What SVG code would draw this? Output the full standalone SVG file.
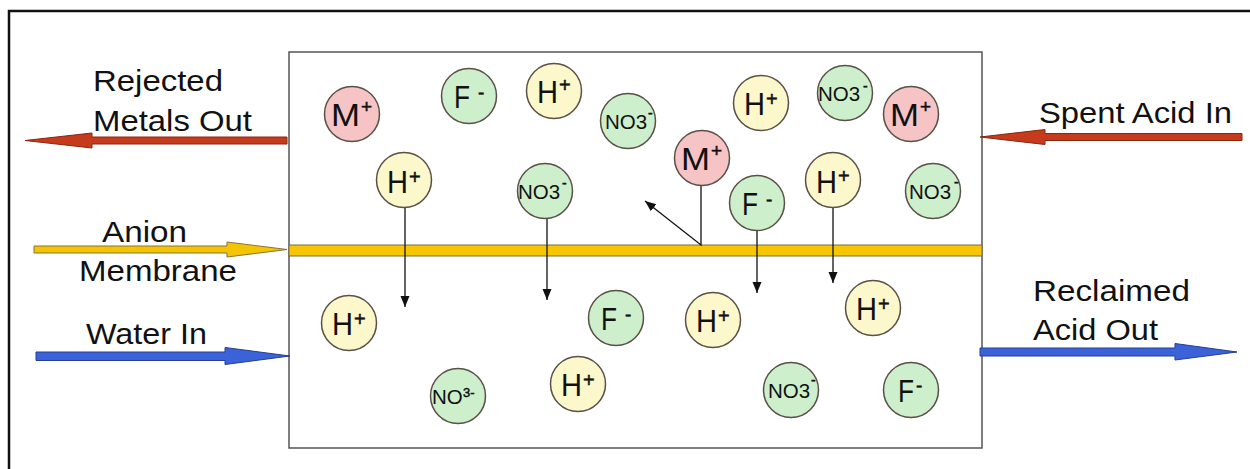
<svg xmlns="http://www.w3.org/2000/svg" width="1250" height="469" viewBox="0 0 1250 469">
<defs>
<style>
.lbl{font-family:"Liberation Sans",Arial,sans-serif;font-size:29.5px;fill:#111}
.big{font-family:"Liberation Sans",Arial,sans-serif;font-size:32px;fill:#111}
.sup{font-family:"Liberation Sans",Arial,sans-serif;fill:#111;stroke:#111;stroke-width:0.5}
.no{font-family:"Liberation Sans",Arial,sans-serif;font-size:20.5px;fill:#111}
.m{fill:#F6C4C4;stroke:#5a5048;stroke-width:1.5}
.h{fill:#FCF8CC;stroke:#5a5048;stroke-width:1.5}
.g{fill:#CDEFCB;stroke:#5a5048;stroke-width:1.5}
.conn{fill:none;stroke:#111;stroke-width:1.3}
.red{fill:#C53B1B;stroke:#86280f;stroke-width:1}
.blue{fill:#3B62D9;stroke:#253f8f;stroke-width:1}
.yel{fill:#F4C400;stroke:#8a7236;stroke-width:1}
</style>
<marker id="ah" markerUnits="userSpaceOnUse" markerWidth="12" markerHeight="12" viewBox="0 0 12 12" refX="11" refY="6" orient="auto">
<path d="M0,1.5 L11,6 L0,10.5 Z" fill="#111"/>
</marker>
</defs>
<rect width="1250" height="469" fill="#fff"/>
<path d="M9,469 V11 H1250" fill="none" stroke="#111" stroke-width="2.5"/>

<g id="cell">
<rect x="289" y="52" width="693" height="396" fill="#fff" stroke="#555" stroke-width="1.5"/>
</g>
<g id="membrane">
<rect x="289" y="245" width="693" height="11" fill="#F8C600" stroke="#7d6a45" stroke-width="1"/>
</g>

<g id="flows">
<polygon class="red" points="287,137 92,137 92,133 25,140.5 92,148 92,144 287,144"/>
<polygon class="red" points="1242,133.5 1045,133.5 1045,129.5 980,137 1045,144.5 1045,140.5 1242,140.5"/>
<polygon class="yel" points="34,246 227,246 227,242 287,249.5 227,257 227,253 34,253"/>
<polygon class="blue" points="36,352 225,352 225,347.5 290,356 225,364.5 225,360.5 36,360.5"/>
<polygon class="blue" points="980,348 1175,348 1175,343.5 1237,352 1175,360 1175,356 980,356"/>
</g>

<g id="labels">
<text class="lbl" x="93" y="91" textLength="130" lengthAdjust="spacingAndGlyphs">Rejected</text>
<text class="lbl" x="93" y="131" textLength="159" lengthAdjust="spacingAndGlyphs">Metals Out</text>
<text class="lbl" x="1039" y="123" textLength="193" lengthAdjust="spacingAndGlyphs">Spent Acid In</text>
<text class="lbl" x="102" y="242" textLength="85" lengthAdjust="spacingAndGlyphs">Anion</text>
<text class="lbl" x="79" y="281" textLength="158" lengthAdjust="spacingAndGlyphs">Membrane</text>
<text class="lbl" x="86" y="344" textLength="121" lengthAdjust="spacingAndGlyphs">Water In</text>
<text class="lbl" x="1033" y="301" textLength="157" lengthAdjust="spacingAndGlyphs">Reclaimed</text>
<text class="lbl" x="1033" y="340" textLength="125" lengthAdjust="spacingAndGlyphs">Acid Out</text>
</g>

<g id="connectors">
<path class="conn" d="M405,207 V307" marker-end="url(#ah)"/>
<path class="conn" d="M547,218 V300" marker-end="url(#ah)"/>
<path class="conn" d="M701,185 V245 L645,201" marker-end="url(#ah)"/>
<path class="conn" d="M757,230 V293" marker-end="url(#ah)"/>
<path class="conn" d="M833,207 V283" marker-end="url(#ah)"/>
</g>

<!-- top chamber -->
<g id="m1" transform="translate(352,114)"><circle r="27.5" class="m"/><text class="big" x="-21" y="12" textLength="29" lengthAdjust="spacingAndGlyphs">M</text><text class="sup" x="9" y="-1" font-size="19">+</text></g>
<g id="f1" transform="translate(469,96)"><circle r="27.5" class="g"/><text class="big" x="-15" y="12" textLength="16" lengthAdjust="spacingAndGlyphs">F</text><text class="sup" x="9" y="3" font-size="19">-</text></g>
<g id="h1" transform="translate(554,91)"><circle r="27.5" class="h"/><text class="big" x="-17" y="12" textLength="21" lengthAdjust="spacingAndGlyphs">H</text><text class="sup" x="5" y="1" font-size="20">+</text></g>
<g id="n1" transform="translate(628,121)"><circle r="27.5" class="g"/><text class="no" x="-23" y="8">NO3</text><text class="sup" x="20" y="-3" font-size="14">-</text></g>
<g id="h2" transform="translate(404,180)"><circle r="27.5" class="h"/><text class="big" x="-17" y="13" textLength="21" lengthAdjust="spacingAndGlyphs">H</text><text class="sup" x="5" y="4" font-size="20">+</text></g>
<g id="n2" transform="translate(545,191)"><circle r="27.5" class="g"/><text class="no" x="-27" y="8">NO3</text><text class="sup" x="17" y="-3" font-size="14">-</text></g>
<g id="h3" transform="translate(761,103)"><circle r="27.5" class="h"/><text class="big" x="-17" y="12" textLength="21" lengthAdjust="spacingAndGlyphs">H</text><text class="sup" x="5" y="3" font-size="20">+</text></g>
<g id="n3" transform="translate(845,93)"><circle r="27.5" class="g"/><text class="no" x="-27" y="8">NO3</text><text class="sup" x="18" y="-2" font-size="14">-</text></g>
<g id="m2" transform="translate(911,114)"><circle r="27.5" class="m"/><text class="big" x="-21" y="12" textLength="29" lengthAdjust="spacingAndGlyphs">M</text><text class="sup" x="9" y="-1" font-size="19">+</text></g>
<g id="m3" transform="translate(702,158)"><circle r="27.5" class="m"/><text class="big" x="-21" y="12" textLength="29" lengthAdjust="spacingAndGlyphs">M</text><text class="sup" x="9" y="-1" font-size="19">+</text></g>
<g id="f2" transform="translate(757,203)"><circle r="27.5" class="g"/><text class="big" x="-15" y="12" textLength="16" lengthAdjust="spacingAndGlyphs">F</text><text class="sup" x="9" y="3" font-size="19">-</text></g>
<g id="h4" transform="translate(833,180)"><circle r="27.5" class="h"/><text class="big" x="-17" y="13" textLength="21" lengthAdjust="spacingAndGlyphs">H</text><text class="sup" x="5" y="3" font-size="20">+</text></g>
<g id="n4" transform="translate(933,191)"><circle r="27.5" class="g"/><text class="no" x="-24" y="8">NO3</text><text class="sup" x="21" y="-4" font-size="14">-</text></g>

<!-- bottom chamber -->
<g id="h5" transform="translate(349,323)"><circle r="27.5" class="h"/><text class="big" x="-17" y="12" textLength="21" lengthAdjust="spacingAndGlyphs">H</text><text class="sup" x="5" y="3" font-size="20">+</text></g>
<g id="f3" transform="translate(616,318)"><circle r="27.5" class="g"/><text class="big" x="-15" y="12" textLength="16" lengthAdjust="spacingAndGlyphs">F</text><text class="sup" x="9" y="3" font-size="19">-</text></g>
<g id="n5" transform="translate(458,396)"><circle r="27.5" class="g"/><text class="no" x="-26" y="8">NO</text><text class="sup" x="5" y="1" font-size="13" stroke-width="0.2">3-</text></g>
<g id="h6" transform="translate(578,384)"><circle r="27.5" class="h"/><text class="big" x="-17" y="12" textLength="21" lengthAdjust="spacingAndGlyphs">H</text><text class="sup" x="5" y="3" font-size="20">+</text></g>
<g id="h7" transform="translate(713,320)"><circle r="27.5" class="h"/><text class="big" x="-17" y="12" textLength="21" lengthAdjust="spacingAndGlyphs">H</text><text class="sup" x="5" y="3" font-size="20">+</text></g>
<g id="h8" transform="translate(873,308)"><circle r="27.5" class="h"/><text class="big" x="-17" y="12" textLength="21" lengthAdjust="spacingAndGlyphs">H</text><text class="sup" x="5" y="3" font-size="20">+</text></g>
<g id="n6" transform="translate(791,390)"><circle r="27.5" class="g"/><text class="no" x="-23" y="8">NO3</text><text class="sup" x="20" y="-5" font-size="14">-</text></g>
<g id="f4" transform="translate(911,390)"><circle r="27.5" class="g"/><text class="big" x="-13" y="12" textLength="16" lengthAdjust="spacingAndGlyphs">F</text><text class="sup" x="5" y="2" font-size="19">-</text></g>
</svg>
